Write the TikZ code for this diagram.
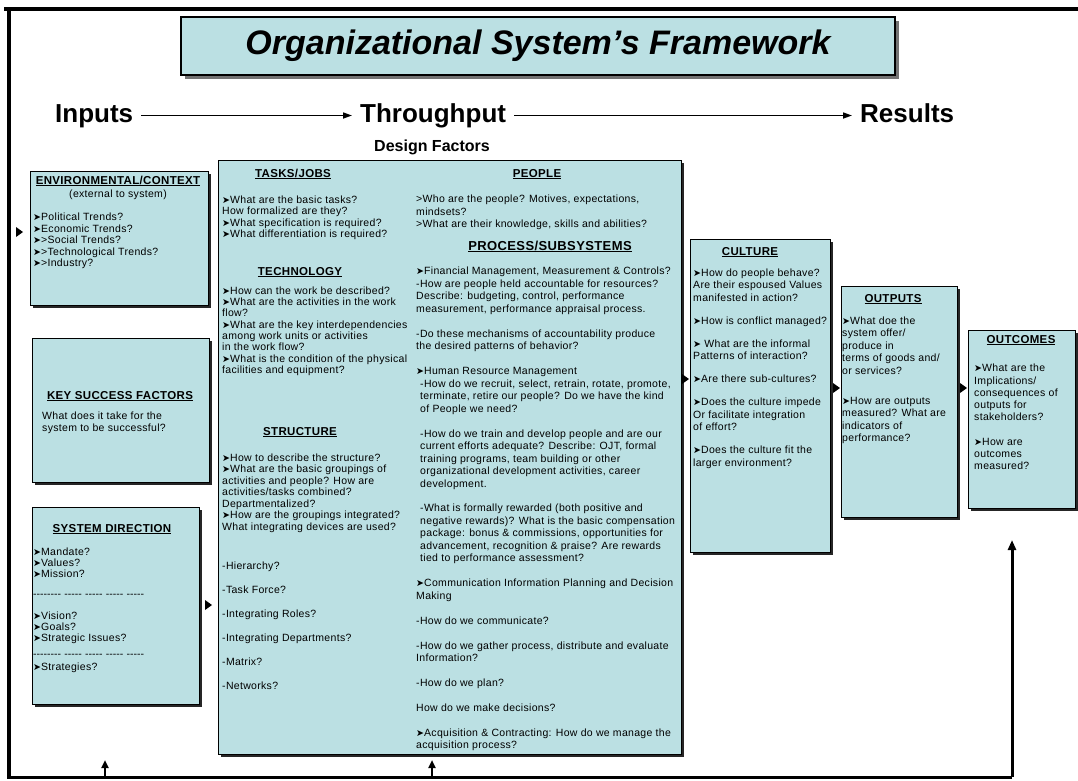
\documentclass[tikz,border=0pt]{standalone}
\usepackage{fontspec}
\setmainfont{Liberation Sans}
\newfontfamily\bodyf{Liberation Sans}[LetterSpace=3]
\newfontfamily\symf{DejaVu Sans}
\usetikzlibrary{shadows,arrows.meta}
\definecolor{boxfill}{RGB}{187,224,227}
\newcommand\ar{{\symf\fontsize{9.5}{9.5}\selectfont ➤}}
\newcommand\hy{-\kern0pt}
\newcommand\dashrow{\hy\hy\hy\hy\hy\hy\hy\hy\ \hy\hy\hy\hy\hy\ \hy\hy\hy\hy\hy\ \hy\hy\hy\hy\hy\ \hy\hy\hy\hy\hy}
\begin{document}
\begin{tikzpicture}[x=1pt,y=-1pt,
 box/.style={draw=black, line width=1pt, fill=boxfill, anchor=north west, inner sep=0pt,
   drop shadow={shadow xshift=2pt, shadow yshift=-2pt, fill=black!85, opacity=1}},
 txt/.style={anchor=north west, inner sep=0pt, align=left,
   font=\bodyf\fontsize{10.5}{#1}\selectfont, execute at begin node=\strut},
 txt/.default=12.5,
 hd/.style={anchor=base, inner sep=0pt, font=\bodyf\bfseries\fontsize{11.5}{13}\selectfont},
 big/.style={anchor=base west, inner xsep=8pt, inner ysep=0pt, text height=19pt, text depth=6pt,
   font=\bfseries\fontsize{26}{30}\selectfont},
 flow/.style={line width=1.6pt, -{Triangle[length=9pt,width=6pt]}},
 uparr/.style={line width=2pt, -{Triangle[length=8pt,width=7pt]}},
 tip/.style={fill=black},
]
\useasboundingbox (0,0) rectangle (1078,780);
\fill[white] (0,0) rectangle (1078,780);

% frame
\coordinate (ftl) at (9,9);
\coordinate (ftr) at (1078,9);
\coordinate (fbl) at (9,777);
\coordinate (fbr) at (1012,777);
\coordinate (otip) at (1012,540);
\draw[line width=4pt] (4,9) -- (ftr);
\draw[line width=4.5pt] (9,7) -- (fbl);
\draw[line width=3pt] (7,777) -- (fbr);
\draw[line width=3pt, -{Triangle[length=10pt,width=8pt]}] (fbr) -- (otip);
\coordinate (a1) at (105,777); \coordinate (a1t) at (105,760);
\coordinate (a2) at (432,777); \coordinate (a2t) at (432,760);
\draw[uparr] (a1) -- (a1t);
\draw[uparr] (a2) -- (a2t);

% title
\node[draw=black, line width=1.2pt, fill=boxfill, minimum width=714pt, minimum height=58pt, inner sep=0pt,
  drop shadow={shadow xshift=4pt, shadow yshift=-4pt, fill=black!55, opacity=1},
  font=\bfseries\itshape\fontsize{34}{40}\selectfont] (title) at (538,46) {Organizational System’s Framework};

% header row
\node[big] (inputs) at (47,122) {Inputs};
\node[big] (through) at (352,122) {Throughput};
\node[big] (results) at (852,122) {Results};
\draw[flow] (inputs) -- (through);
\draw[flow] (through) -- (results);
\node[font=\bfseries\fontsize{16}{18}\selectfont, inner sep=0pt] (design) at (432,147) {Design Factors};

% boxes
\node[box, minimum width=178pt, minimum height=134pt] (env) at (30,171) {};
\node[box, minimum width=177pt, minimum height=144pt] (ksf) at (32,338) {};
\node[box, minimum width=167pt, minimum height=197pt] (sysdir) at (32,507) {};
\node[box, minimum width=463pt, minimum height=594pt] (thru) at (218,160) {};
\node[box, minimum width=140pt, minimum height=313pt] (culture) at (690,239) {};
\node[box, minimum width=116pt, minimum height=231pt] (outputs) at (841,286) {};
\node[box, minimum width=107pt, minimum height=178pt] (outcomes) at (968,330) {};

% arrow tips into boxes
\fill[tip] (16,227) -- (23,232) -- (16,237) -- cycle;
\fill[tip] (205,600) -- (212,605) -- (205,610) -- cycle;
\fill[tip] (682,374) -- (689,379) -- (682,384) -- cycle;
\fill[tip] (833,383) -- (840,388) -- (833,393) -- cycle;
\fill[tip] (960,383) -- (967,388) -- (960,393) -- cycle;

% environmental
\node[hd] (envh) at (118,184) {\underline{ENVIRONMENTAL/CONTEXT}};
\node[anchor=base, inner sep=0pt, font=\bodyf\fontsize{10.5}{12}\selectfont] (envs) at (118,197) {(external to system)};
\node[txt=11.5] (envl) at (33,213) {\ar Political Trends?\\\ar Economic Trends?\\\ar>Social Trends?\\\ar>Technological Trends?\\\ar>Industry?};

% key success factors
\node[hd] (ksfh) at (120,399) {\underline{KEY SUCCESS FACTORS}};
\node[txt=12] (ksft) at (42,412) {What does it take for the\\system to be successful?};

% system direction
\node[hd] (sysh) at (112,532) {\underline{SYSTEM DIRECTION}};
\node[txt=11] (sys1) at (33,548) {\ar Mandate?\\\ar Values?\\\ar Mission?};
\node[txt] (sysd1) at (33,589) {\dashrow};
\node[txt=11] (sys2) at (33,612) {\ar Vision?\\\ar Goals?\\\ar Strategic Issues?};
\node[txt] (sysd2) at (33,649) {\dashrow};
\node[txt] (sys3) at (33,662) {\ar Strategies?};

% throughput left column
\node[hd] (tjh) at (293,177) {\underline{TASKS/JOBS}};
\node[txt=11.4] (tjt) at (222,195.5) {\ar What are the basic tasks?\\How formalized are they?\\\ar What specification is required?\\\ar What differentiation is required?};
\node[hd] (teh) at (300,275) {\underline{TECHNOLOGY}};
\node[txt=11.3] (tet) at (222,286.5) {\ar How can the work be described?\\\ar What are the activities in the work\\flow?\\\ar What are the key interdependencies\\among work units or activities\\in the work flow?\\\ar What is the condition of the physical\\facilities and equipment?};
\node[hd] (sth) at (300,435) {\underline{STRUCTURE}};
\node[txt=11.5] (stt) at (222,453.5) {\ar How to describe the structure?\\\ar What are the basic groupings of\\activities and people? How are\\activities/tasks combined?\\Departmentalized?\\\ar How are the groupings integrated?\\What integrating devices are used?};
\node[txt=12] (stl) at (222,562) {-Hierarchy?\\[12pt]-Task Force?\\[12pt]-Integrating Roles?\\[12pt]-Integrating Departments?\\[12pt]-Matrix?\\[12pt]-Networks?};

% throughput right column
\node[hd] (peh) at (537,177) {\underline{PEOPLE}};
\node[txt] (pet) at (416,195) {>Who are the people? Motives, expectations,\\mindsets?\\>What are their knowledge, skills and abilities?};
\node[hd, font=\bodyf\bfseries\fontsize{13}{15}\selectfont] (prh) at (550,250) {\underline{PROCESS/SUBSYSTEMS}};
\node[txt] (prt) at (416,267) {\ar Financial Management, Measurement \& Controls?\\
-How are people held accountable for resources?\\
Describe: budgeting, control, performance\\
measurement, performance appraisal process.\\[12.4pt]
-Do these mechanisms of accountability produce\\
the desired patterns of behavior?\\[12.4pt]
\ar Human Resource Management\\
\hspace*{4pt}-How do we recruit, select, retrain, rotate, promote,\\
\hspace*{4pt}terminate, retire our people? Do we have the kind\\
\hspace*{4pt}of People we need?\\[12.4pt]
\hspace*{4pt}-How do we train and develop people and are our\\
\hspace*{4pt}current efforts adequate? Describe: OJT, formal\\
\hspace*{4pt}training programs, team building or other\\
\hspace*{4pt}organizational development activities, career\\
\hspace*{4pt}development.\\[12.4pt]
\hspace*{4pt}-What is formally rewarded (both positive and\\
\hspace*{4pt}negative rewards)? What is the basic compensation\\
\hspace*{4pt}package: bonus \& commissions, opportunities for\\
\hspace*{4pt}advancement, recognition \& praise? Are rewards\\
\hspace*{4pt}tied to performance assessment?\\[12.4pt]
\ar Communication Information Planning and Decision\\
Making\\[12.4pt]
-How do we communicate?\\[12.4pt]
-How do we gather process, distribute and evaluate\\
Information?\\[12.4pt]
-How do we plan?\\[12.4pt]
How do we make decisions?\\[12.4pt]
\ar Acquisition \& Contracting: How do we manage the\\
acquisition process?};

% culture
\node[hd] (cuh) at (750,255) {\underline{CULTURE}};
\node[txt=12.5] (cut) at (693,268.5) {\ar How do people behave?\\Are their espoused Values\\manifested in action?\\[10.5pt]\ar How is conflict managed?\\[10.5pt]\ar\ What are the informal\\Patterns of interaction?\\[10.5pt]\ar Are there sub-cultures?\\[10.5pt]\ar Does the culture impede\\Or facilitate integration\\of effort?\\[10.5pt]\ar Does the culture fit the\\larger environment?};

% outputs
\node[hd] (ouh) at (893,302) {\underline{OUTPUTS}};
\node[txt=12.5] (out) at (842,316.5) {\ar What doe the\\system offer/\\produce in\\terms of goods and/\\or services?\\[17.5pt]\ar How are outputs\\measured? What are\\indicators of\\performance?};

% outcomes
\node[hd] (och) at (1021,343) {\underline{OUTCOMES}};
\node[txt=12.2] (oct) at (974,364) {\ar What are the\\Implications/\\consequences of\\outputs for\\stakeholders?\\[12.2pt]\ar How are\\outcomes\\measured?};
\end{tikzpicture}
\end{document}
